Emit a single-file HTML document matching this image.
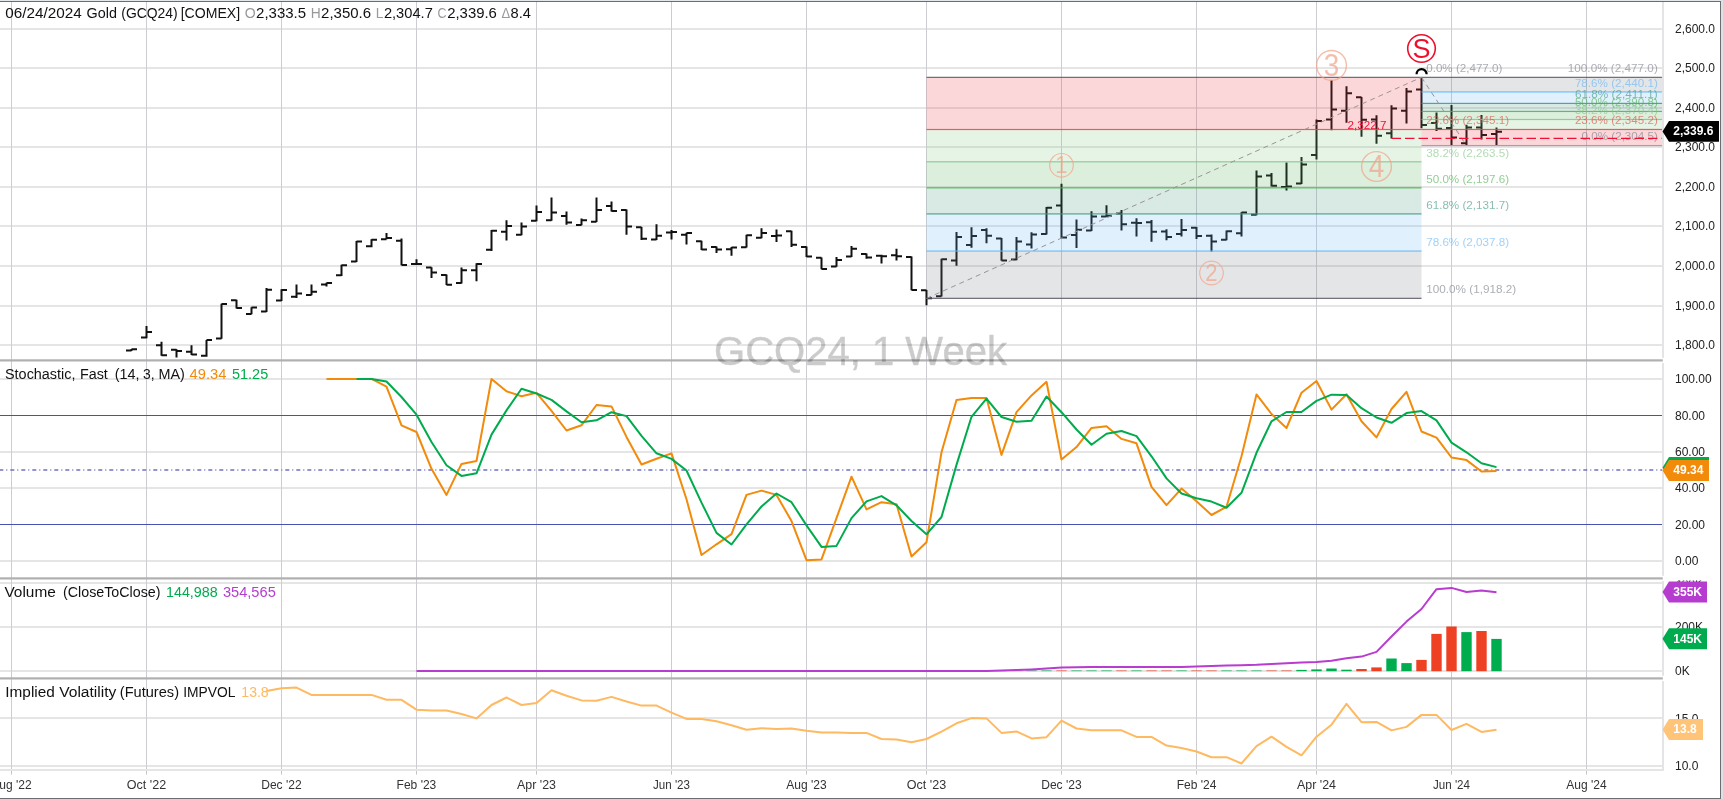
<!DOCTYPE html>
<html><head><meta charset="utf-8"><title>GCQ24 Weekly Chart</title>
<style>html,body{margin:0;padding:0;background:#fff;overflow:hidden}svg{display:block;will-change:transform}</style></head>
<body>
<svg width="1723" height="799" viewBox="0 0 1723 799" font-family="Liberation Sans, sans-serif">
<rect width="1723" height="799" fill="#fff"/>
<defs><clipPath id="cp"><rect x="0" y="2" width="1662" height="355.6"/></clipPath></defs>
<g id="hgrid">
<rect x="0" y="344" width="1662" height="2" fill="#e5e5e5" shape-rendering="crispEdges"/>
<rect x="0" y="305" width="1662" height="2" fill="#e5e5e5" shape-rendering="crispEdges"/>
<rect x="0" y="265" width="1662" height="2" fill="#e5e5e5" shape-rendering="crispEdges"/>
<rect x="0" y="225" width="1662" height="2" fill="#e5e5e5" shape-rendering="crispEdges"/>
<rect x="0" y="186" width="1662" height="2" fill="#e5e5e5" shape-rendering="crispEdges"/>
<rect x="0" y="146" width="1662" height="2" fill="#e5e5e5" shape-rendering="crispEdges"/>
<rect x="0" y="107" width="1662" height="2" fill="#e5e5e5" shape-rendering="crispEdges"/>
<rect x="0" y="67" width="1662" height="2" fill="#e5e5e5" shape-rendering="crispEdges"/>
<rect x="0" y="28" width="1662" height="2" fill="#e5e5e5" shape-rendering="crispEdges"/>
<rect x="0" y="378" width="1662" height="2" fill="#e5e5e5" shape-rendering="crispEdges"/>
<rect x="0" y="451" width="1662" height="2" fill="#e5e5e5" shape-rendering="crispEdges"/>
<rect x="0" y="487" width="1662" height="2" fill="#e5e5e5" shape-rendering="crispEdges"/>
<rect x="0" y="560" width="1662" height="2" fill="#e5e5e5" shape-rendering="crispEdges"/>
<rect x="0" y="582" width="1662" height="2" fill="#e5e5e5" shape-rendering="crispEdges"/>
<rect x="0" y="626" width="1662" height="2" fill="#e5e5e5" shape-rendering="crispEdges"/>
<rect x="0" y="670" width="1662" height="2" fill="#e5e5e5" shape-rendering="crispEdges"/>
<rect x="0" y="717" width="1662" height="2" fill="#e5e5e5" shape-rendering="crispEdges"/>
<rect x="0" y="765" width="1662" height="2" fill="#e5e5e5" shape-rendering="crispEdges"/>
</g>
<g id="vgrid" shape-rendering="crispEdges">
<rect x="11" y="2" width="1" height="772" fill="#cdcdd1"/>
<rect x="146" y="2" width="1" height="772" fill="#cdcdd1"/>
<rect x="281" y="2" width="1" height="772" fill="#cdcdd1"/>
<rect x="416" y="2" width="1" height="772" fill="#cdcdd1"/>
<rect x="536" y="2" width="1" height="772" fill="#cdcdd1"/>
<rect x="671" y="2" width="1" height="772" fill="#cdcdd1"/>
<rect x="806" y="2" width="1" height="772" fill="#cdcdd1"/>
<rect x="926" y="2" width="1" height="772" fill="#cdcdd1"/>
<rect x="1061" y="2" width="1" height="772" fill="#cdcdd1"/>
<rect x="1196" y="2" width="1" height="772" fill="#cdcdd1"/>
<rect x="1316" y="2" width="1" height="772" fill="#cdcdd1"/>
<rect x="1451" y="2" width="1" height="772" fill="#cdcdd1"/>
<rect x="1586" y="2" width="1" height="772" fill="#cdcdd1"/>
</g>
<g id="bars" clip-path="url(#cp)" stroke="#111" stroke-width="2" fill="none">
<path d="M131.5,349.0V351.0M126.0,350.5H131.5M131.5,349.3H137.0M146.5,326.0V338.3M141.0,337.4H146.5M146.5,332.1H152.0M161.5,341.8V355.8M156.0,345.3H161.5M161.5,355.3H167.0M176.5,349.3V359.0M171.0,349.7H176.5M176.5,351.0H182.0M191.5,345.3V355.0M186.0,351.8H191.5M191.5,354.6H197.0M206.5,340.0V356.7M201.0,355.8H206.5M206.5,340.0H212.0M221.5,303.8V338.8M216.0,338.6H221.5M221.5,304.1H227.0M236.5,299.7V308.5M231.0,300.3H236.5M236.5,308.1H242.0M251.5,307.3V314.3M246.0,313.9H251.5M251.5,307.6H257.0M266.5,288.0V312.0M261.0,311.6H266.5M266.5,289.7H272.0M281.5,289.2V301.0M276.0,300.6H281.5M281.5,290.1H287.0M296.5,284.5V298.0M291.0,296.7H296.5M296.5,293.6H302.0M311.5,284.5V295.3M306.0,295.0H311.5M311.5,291.8H317.0M326.5,282.7V286.6M321.0,284.5H326.5M326.5,283.1H332.0M341.5,264.7V276.1M336.0,275.2H341.5M341.5,265.2H347.0M356.5,241.0V262.0M351.0,261.5H356.5M356.5,241.6H362.0M371.5,239.3V247.2M366.0,246.3H371.5M371.5,239.8H377.0M386.5,233.1V239.3M381.0,239.3H386.5M386.5,238.0H392.0M401.5,238.4V265.2M396.0,240.7H401.5M401.5,264.9H407.0M416.5,259.2V264.5M411.0,264.1H416.5M416.5,264.1H422.0M431.5,267.3V278.1M426.0,267.6H431.5M431.5,272.5H437.0M446.5,274.6V285.1M441.0,275.1H446.5M446.5,284.8H452.0M461.5,267.6V283.4M456.0,283.0H461.5M461.5,270.2H467.0M476.5,263.2V281.3M471.0,270.2H476.5M476.5,264.1H482.0M491.5,229.9V251.0M486.0,249.7H491.5M491.5,230.8H497.0M506.5,220.3V240.5M501.0,231.7H506.5M506.5,225.9H512.0M521.5,222.4V235.2M516.0,234.8H521.5M521.5,226.6H527.0M536.5,205.4V221.2M531.0,220.8H536.5M536.5,211.9H542.0M551.5,197.5V220.7M546.0,220.3H551.5M551.5,212.4H557.0M566.5,211.5V224.7M561.0,215.9H566.5M566.5,222.6H572.0M581.5,218.5V225.2M576.0,224.9H581.5M581.5,220.3H587.0M596.5,197.5V222.0M591.0,221.7H596.5M596.5,210.1H602.0M611.5,201.4V211.5M606.0,205.9H611.5M611.5,211.0H617.0M626.5,209.4V234.7M621.0,210.1H626.5M626.5,226.4H632.0M641.5,227.0V239.9M636.0,227.3H641.5M641.5,238.7H647.0M656.5,224.2V239.9M651.0,239.6H656.5M656.5,235.7H662.0M671.5,229.9V239.6M666.0,232.6H671.5M671.5,232.0H677.0M686.5,232.7V244.4M681.0,234.7H686.5M686.5,233.0H692.0M701.5,240.8V250.1M696.0,241.2H701.5M701.5,249.6H707.0M716.5,246.4V253.1M711.0,246.9H716.5M716.5,249.6H722.0M731.5,246.9V255.7M726.0,249.2H731.5M731.5,247.5H737.0M746.5,234.7V247.5M741.0,247.3H746.5M746.5,235.2H752.0M761.5,228.2V238.2M756.0,237.7H761.5M761.5,232.9H767.0M776.5,229.4V242.0M771.0,235.9H776.5M776.5,235.6H782.0M791.5,230.7V246.9M786.0,231.2H791.5M791.5,244.7H797.0M806.5,246.4V256.9M801.0,246.9H806.5M806.5,256.6H812.0M821.5,257.5V269.2M816.0,257.8H821.5M821.5,268.9H827.0M836.5,257.1V266.7M831.0,266.4H836.5M836.5,260.1H842.0M851.5,246.1V256.9M846.0,256.6H851.5M851.5,248.7H857.0M866.5,253.4V258.7M861.0,254.0H866.5M866.5,257.5H872.0M881.5,254.8V263.6M876.0,255.7H881.5M881.5,256.2H887.0M896.5,248.7V260.4M891.0,255.2H896.5M896.5,256.2H902.0M911.5,256.6V290.2M906.0,257.1H911.5M911.5,289.9H917.0M926.5,289.9V305.3M921.0,290.2H926.5M926.5,298.3H932.0M941.5,258.7V296.5M936.0,296.2H941.5M941.5,259.2H947.0M956.5,232.0V265.7M951.0,260.4H956.5M956.5,237.0H962.0M971.5,227.3V247.7M966.0,245.1H971.5M971.5,236.0H977.0M986.5,228.3V243.2M981.0,230.1H986.5M986.5,235.7H992.0M1001.5,238.0V260.8M996.0,238.5H1001.5M1001.5,260.4H1007.0M1016.5,237.1V260.2M1011.0,259.5H1016.5M1016.5,241.5H1022.0M1031.5,232.2V248.5M1026.0,244.5H1031.5M1031.5,234.5H1037.0M1046.5,207.0V234.5M1041.0,234.1H1046.5M1046.5,207.7H1052.0M1061.5,183.7V238.5M1056.0,205.6H1061.5M1061.5,237.6H1067.0M1076.5,219.6V248.0M1071.0,235.0H1076.5M1076.5,229.7H1082.0M1091.5,211.3V231.0M1086.0,230.6H1091.5M1091.5,216.4H1097.0M1106.5,205.2V216.9M1101.0,216.6H1106.5M1106.5,215.7H1112.0M1121.5,209.9V230.6M1116.0,213.4H1121.5M1121.5,224.3H1127.0M1136.5,218.2V236.6M1131.0,222.7H1136.5M1136.5,223.1H1142.0M1151.5,220.1V241.8M1146.0,222.2H1151.5M1151.5,231.8H1157.0M1166.5,229.2V240.3M1161.0,231.5H1166.5M1166.5,237.1H1172.0M1181.5,219.1V236.6M1176.0,233.9H1181.5M1181.5,230.1H1187.0M1196.5,227.1V238.9M1191.0,227.8H1196.5M1196.5,235.9H1202.0M1211.5,234.5V251.5M1206.0,235.7H1211.5M1211.5,241.5H1217.0M1226.5,230.6V240.3M1221.0,239.7H1226.5M1226.5,231.3H1232.0M1241.5,212.2V236.6M1236.0,233.2H1241.5M1241.5,212.6H1247.0M1256.5,170.5V215.2M1251.0,214.8H1256.5M1256.5,176.6H1262.0M1271.5,173.0V186.5M1266.0,175.6H1271.5M1271.5,185.8H1277.0M1286.5,162.5V190.5M1281.0,187.0H1286.5M1286.5,186.5H1292.0M1301.5,156.9V184.1M1296.0,183.5H1301.5M1301.5,164.6H1307.0M1316.5,119.6V159.5M1311.0,155.1H1316.5M1316.5,121.0H1322.0M1331.5,80.0V130.2M1326.0,119.4H1331.5M1331.5,109.6H1337.0M1346.5,86.3V122.7M1341.0,110.8H1346.5M1346.5,93.3H1352.0M1361.5,96.9V136.7M1356.0,97.3H1361.5M1361.5,119.7H1367.0M1376.5,115.2V143.8M1371.0,119.6H1376.5M1376.5,135.7H1382.0M1391.5,105.2V138.5M1386.0,133.3H1391.5M1391.5,108.5H1397.0M1406.5,88.0V123.4M1401.0,110.8H1406.5M1406.5,91.5H1412.0M1421.5,77.8V128.2M1416.0,89.4H1421.5M1421.5,124.9H1427.0M1436.5,112.6V131.0M1431.0,123.1H1436.5M1436.5,128.7H1442.0M1451.5,105.0V144.9M1446.0,127.9H1451.5M1451.5,137.5H1457.0M1466.5,124.7V144.9M1461.0,143.2H1466.5M1466.5,127.6H1472.0M1481.5,115.0V139.4M1476.0,127.6H1481.5M1481.5,135.1H1487.0M1496.5,127.4V144.9M1491.0,134.0H1496.5M1496.5,131.8H1502.0"/>
</g>
<g id="fib">
<rect x="926.5" y="77.35" width="495.0" height="52.17" fill="#f23645" fill-opacity="0.2"/>
<rect x="926.5" y="129.51" width="495.0" height="32.27" fill="#81c784" fill-opacity="0.2"/>
<rect x="926.5" y="161.79" width="495.0" height="26.06" fill="#4caf50" fill-opacity="0.2"/>
<rect x="926.5" y="187.85" width="495.0" height="26.06" fill="#3f957f" fill-opacity="0.2"/>
<rect x="926.5" y="213.91" width="495.0" height="37.14" fill="#64b5f6" fill-opacity="0.2"/>
<rect x="926.5" y="251.05" width="495.0" height="47.30" fill="#787b86" fill-opacity="0.2"/>
<rect x="926.5" y="76.75" width="495.0" height="1.2" fill="#55525e" fill-opacity="0.85"/>
<rect x="926.5" y="128.91" width="495.0" height="1.2" fill="#db4a40" fill-opacity="0.85"/>
<rect x="926.5" y="161.19" width="495.0" height="1.2" fill="#81c784" fill-opacity="0.85"/>
<rect x="926.5" y="187.25" width="495.0" height="1.2" fill="#4caf50" fill-opacity="0.85"/>
<rect x="926.5" y="213.31" width="495.0" height="1.2" fill="#3f957f" fill-opacity="0.85"/>
<rect x="926.5" y="250.45" width="495.0" height="1.2" fill="#64b5f6" fill-opacity="0.85"/>
<rect x="926.5" y="297.75" width="495.0" height="1.2" fill="#55525e" fill-opacity="0.85"/>
<rect x="1421.5" y="77.35" width="241.5" height="14.59" fill="#787b86" fill-opacity="0.2"/>
<rect x="1421.5" y="91.94" width="241.5" height="11.47" fill="#64b5f6" fill-opacity="0.2"/>
<rect x="1421.5" y="103.41" width="241.5" height="8.03" fill="#3f957f" fill-opacity="0.2"/>
<rect x="1421.5" y="111.44" width="241.5" height="8.07" fill="#4caf50" fill-opacity="0.2"/>
<rect x="1421.5" y="119.51" width="241.5" height="9.97" fill="#81c784" fill-opacity="0.2"/>
<rect x="1421.5" y="129.47" width="241.5" height="16.10" fill="#f23645" fill-opacity="0.2"/>
<rect x="1421.5" y="76.75" width="241.5" height="1.2" fill="#55525e" fill-opacity="0.85"/>
<rect x="1421.5" y="91.34" width="241.5" height="1.2" fill="#64b5f6" fill-opacity="0.85"/>
<rect x="1421.5" y="102.81" width="241.5" height="1.2" fill="#3f957f" fill-opacity="0.85"/>
<rect x="1421.5" y="110.84" width="241.5" height="1.2" fill="#4caf50" fill-opacity="0.85"/>
<rect x="1421.5" y="118.91" width="241.5" height="1.2" fill="#81c784" fill-opacity="0.85"/>
<rect x="1421.5" y="128.87" width="241.5" height="1.2" fill="#db4a40" fill-opacity="0.85"/>
<rect x="1421.5" y="144.97" width="241.5" height="1.2" fill="#9a8f9a" fill-opacity="0.85"/>
</g>
<line x1="926.5" y1="298.4" x2="1421.5" y2="77.3" stroke="#9a9494" stroke-width="1" stroke-dasharray="5,4"/>
<line x1="1421.5" y1="77.3" x2="1466.5" y2="145.6" stroke="#9a9494" stroke-width="1" stroke-dasharray="5,4"/>
<g id="fiblabels">
<text x="1426.2" y="72.0" font-size="11.5" fill="#787b86" fill-opacity="0.62" textLength="76.2" lengthAdjust="spacingAndGlyphs">0.0% (2,477.0)</text>
<text x="1426.2" y="124.2" font-size="11.5" fill="#db4a40" fill-opacity="0.62" textLength="82.9" lengthAdjust="spacingAndGlyphs">23.6% (2,345.1)</text>
<text x="1426.2" y="156.5" font-size="11.5" fill="#81c784" fill-opacity="0.62" textLength="82.9" lengthAdjust="spacingAndGlyphs">38.2% (2,263.5)</text>
<text x="1426.2" y="182.5" font-size="11.5" fill="#4caf50" fill-opacity="0.62" textLength="82.9" lengthAdjust="spacingAndGlyphs">50.0% (2,197.6)</text>
<text x="1426.2" y="208.6" font-size="11.5" fill="#3f957f" fill-opacity="0.62" textLength="82.9" lengthAdjust="spacingAndGlyphs">61.8% (2,131.7)</text>
<text x="1426.2" y="245.8" font-size="11.5" fill="#64b5f6" fill-opacity="0.62" textLength="82.9" lengthAdjust="spacingAndGlyphs">78.6% (2,037.8)</text>
<text x="1426.2" y="293.1" font-size="11.5" fill="#787b86" fill-opacity="0.62" textLength="90.0" lengthAdjust="spacingAndGlyphs">100.0% (1,918.2)</text>
<text x="1567.8" y="72.0" font-size="11.5" fill="#787b86" fill-opacity="0.62" textLength="90.0" lengthAdjust="spacingAndGlyphs">100.0% (2,477.0)</text>
<text x="1574.9" y="86.6" font-size="11.5" fill="#64b5f6" fill-opacity="0.62" textLength="82.9" lengthAdjust="spacingAndGlyphs">78.6% (2,440.1)</text>
<text x="1574.9" y="98.1" font-size="11.5" fill="#3f957f" fill-opacity="0.62" textLength="82.9" lengthAdjust="spacingAndGlyphs">61.8% (2,411.1)</text>
<text x="1574.9" y="106.1" font-size="11.5" fill="#4caf50" fill-opacity="0.62" textLength="82.9" lengthAdjust="spacingAndGlyphs">50.0% (2,390.8)</text>
<text x="1574.9" y="114.2" font-size="11.5" fill="#81c784" fill-opacity="0.62" textLength="82.9" lengthAdjust="spacingAndGlyphs">38.2% (2,370.4)</text>
<text x="1574.9" y="124.2" font-size="11.5" fill="#db4a40" fill-opacity="0.62" textLength="82.9" lengthAdjust="spacingAndGlyphs">23.6% (2,345.2)</text>
<text x="1581.6" y="140.3" font-size="11.5" fill="#787b86" fill-opacity="0.62" textLength="76.2" lengthAdjust="spacingAndGlyphs">0.0% (2,304.5)</text>
</g>
<g opacity="0.72"><circle cx="1061.5" cy="165.3" r="11.8" fill="none" stroke="#f2a58b" stroke-width="1.2"/><text x="1055.37" y="173.4" font-size="24.5" fill="#f2a58b" textLength="12.26" lengthAdjust="spacingAndGlyphs">1</text></g>
<g opacity="0.72"><circle cx="1211.5" cy="273" r="11.8" fill="none" stroke="#f2a58b" stroke-width="1.2"/><text x="1205.37" y="281.1" font-size="24.5" fill="#f2a58b" textLength="12.26" lengthAdjust="spacingAndGlyphs">2</text></g>
<g opacity="0.72"><circle cx="1331.5" cy="65.4" r="14.9" fill="none" stroke="#f2a58b" stroke-width="1.4"/><text x="1323.74" y="75.6" font-size="31" fill="#f2a58b" textLength="15.51" lengthAdjust="spacingAndGlyphs">3</text></g>
<g opacity="0.72"><circle cx="1376.5" cy="166.5" r="14.9" fill="none" stroke="#f2a58b" stroke-width="1.4"/><text x="1368.74" y="176.7" font-size="31" fill="#f2a58b" textLength="15.51" lengthAdjust="spacingAndGlyphs">4</text></g>
<line x1="1391.5" y1="138.4" x2="1662" y2="138.4" stroke="#ee1133" stroke-width="1.4" stroke-dasharray="9.5,4"/>
<text x="1347.4" y="128.7" font-size="11.5" fill="#ee1133" textLength="39" lengthAdjust="spacingAndGlyphs">2,322.7</text>
<path d="M1416.6,74.3 A5,5.2 0 0 1 1426.6,74.3" fill="none" stroke="#000" stroke-width="2.2"/>
<g opacity="1"><circle cx="1421.5" cy="48.5" r="13.8" fill="none" stroke="#ee0f2d" stroke-width="1.6"/><text x="1412.50" y="58.2" font-size="27" fill="#ee0f2d" textLength="18.01" lengthAdjust="spacingAndGlyphs">S</text></g>
<rect x="0" y="359.3" width="1662.8" height="2.2" fill="#b0b0b0"/>
<rect x="0" y="577.3" width="1662.8" height="2.2" fill="#b0b0b0"/>
<rect x="0" y="677.3" width="1662.8" height="2.2" fill="#b0b0b0"/>
<rect x="0" y="415" width="1662" height="1" fill="#4a50ae" shape-rendering="crispEdges"/>
<rect x="0" y="524" width="1662" height="1" fill="#4a50ae" shape-rendering="crispEdges"/>
<line x1="-0.7" y1="470" x2="1662" y2="470" stroke="#6d72c4" stroke-width="1.3" stroke-dasharray="4,3,1,3"/>
<polyline points="326.5,378.9 341.5,378.9 356.5,378.9 371.5,378.9 386.5,386.7 401.5,425.3 416.5,432.0 431.5,468.8 446.5,494.9 461.5,463.9 476.5,461.0 491.5,378.9 506.5,391.3 521.5,396.3 536.5,392.8 551.5,410.8 566.5,430.5 581.5,425.3 596.5,405.0 611.5,406.4 626.5,436.9 641.5,464.5 656.5,458.7 671.5,453.4 686.5,499.3 701.5,555.0 716.5,544.3 731.5,534.1 746.5,494.9 761.5,490.6 776.5,494.9 791.5,521.1 806.5,560.2 821.5,559.4 836.5,518.2 851.5,476.7 866.5,509.4 881.5,502.2 896.5,504.2 911.5,556.5 926.5,542.2 941.5,452.3 956.5,400.0 971.5,398.0 986.5,398.0 1001.5,454.9 1016.5,412.2 1031.5,395.4 1046.5,381.8 1061.5,459.5 1076.5,447.1 1091.5,427.9 1106.5,426.2 1121.5,438.9 1136.5,443.3 1151.5,486.8 1166.5,505.1 1181.5,488.6 1196.5,501.3 1211.5,515.0 1226.5,506.8 1241.5,456.3 1256.5,394.4 1271.5,414.0 1286.5,428.0 1301.5,392.7 1316.5,381.0 1331.5,409.6 1346.5,394.2 1361.5,421.3 1376.5,437.4 1391.5,409.0 1406.5,391.8 1421.5,431.5 1436.5,437.7 1451.5,457.5 1466.5,460.1 1481.5,471.5 1496.5,470.9" fill="none" stroke="#f28a0a" stroke-width="2.0" stroke-linejoin="round"/>
<polyline points="356.5,378.9 371.5,378.9 386.5,381.5 401.5,397.0 416.5,414.7 431.5,442.0 446.5,465.2 461.5,475.9 476.5,473.3 491.5,434.6 506.5,410.4 521.5,388.8 536.5,393.5 551.5,399.9 566.5,411.4 581.5,422.2 596.5,420.3 611.5,412.2 626.5,416.1 641.5,435.9 656.5,453.3 671.5,458.9 686.5,470.5 701.5,502.6 716.5,532.9 731.5,544.5 746.5,524.4 761.5,506.5 776.5,493.5 791.5,502.2 806.5,525.4 821.5,546.9 836.5,545.9 851.5,518.1 866.5,501.4 881.5,496.1 896.5,505.3 911.5,521.0 926.5,534.3 941.5,517.0 956.5,464.9 971.5,416.8 986.5,398.7 1001.5,417.0 1016.5,421.7 1031.5,420.8 1046.5,396.5 1061.5,412.2 1076.5,429.5 1091.5,444.8 1106.5,433.7 1121.5,431.0 1136.5,436.1 1151.5,456.3 1166.5,478.4 1181.5,493.5 1196.5,498.3 1211.5,501.6 1226.5,507.7 1241.5,492.8 1256.5,452.8 1271.5,421.3 1286.5,412.0 1301.5,412.0 1316.5,400.9 1331.5,394.7 1346.5,395.0 1361.5,408.2 1376.5,417.5 1391.5,422.8 1406.5,413.1 1421.5,411.1 1436.5,420.4 1451.5,442.6 1466.5,452.3 1481.5,463.3 1496.5,467.1" fill="none" stroke="#00ab4e" stroke-width="2.0" stroke-linejoin="round"/>
<g id="vol">
<rect x="876.3" y="670.2" width="10.4" height="1.0" fill="#00ad4e" fill-opacity="0.12"/>
<rect x="891.3" y="670.2" width="10.4" height="1.0" fill="#ee4023" fill-opacity="0.12"/>
<rect x="906.3" y="670.2" width="10.4" height="1.0" fill="#ee4023" fill-opacity="0.12"/>
<rect x="921.3" y="670.2" width="10.4" height="1.0" fill="#ee4023" fill-opacity="0.12"/>
<rect x="936.3" y="670.2" width="10.4" height="1.0" fill="#00ad4e" fill-opacity="0.12"/>
<rect x="951.3" y="670.2" width="10.4" height="1.0" fill="#00ad4e" fill-opacity="0.12"/>
<rect x="966.3" y="670.2" width="10.4" height="1.0" fill="#00ad4e" fill-opacity="0.12"/>
<rect x="981.3" y="670.2" width="10.4" height="1.0" fill="#00ad4e" fill-opacity="0.12"/>
<rect x="996.3" y="670.2" width="10.4" height="1.0" fill="#ee4023" fill-opacity="0.35"/>
<rect x="1011.3" y="670.2" width="10.4" height="1.0" fill="#00ad4e" fill-opacity="0.35"/>
<rect x="1026.3" y="670.2" width="10.4" height="1.0" fill="#00ad4e" fill-opacity="0.6"/>
<rect x="1041.3" y="670.2" width="10.4" height="1.0" fill="#00ad4e" fill-opacity="0.6"/>
<rect x="1056.3" y="670.2" width="10.4" height="1.0" fill="#ee4023" fill-opacity="0.6"/>
<rect x="1071.3" y="670.2" width="10.4" height="1.0" fill="#00ad4e" fill-opacity="0.6"/>
<rect x="1086.3" y="670.2" width="10.4" height="1.0" fill="#00ad4e" fill-opacity="0.6"/>
<rect x="1101.3" y="670.2" width="10.4" height="1.0" fill="#00ad4e" fill-opacity="0.6"/>
<rect x="1116.3" y="670.2" width="10.4" height="1.0" fill="#ee4023" fill-opacity="0.6"/>
<rect x="1131.3" y="670.2" width="10.4" height="1.0" fill="#00ad4e" fill-opacity="0.6"/>
<rect x="1146.3" y="670.2" width="10.4" height="1.0" fill="#ee4023" fill-opacity="0.6"/>
<rect x="1161.3" y="670.2" width="10.4" height="1.0" fill="#ee4023" fill-opacity="0.6"/>
<rect x="1176.3" y="670.2" width="10.4" height="1.0" fill="#00ad4e" fill-opacity="0.6"/>
<rect x="1191.3" y="670.2" width="10.4" height="1.0" fill="#ee4023" fill-opacity="0.6"/>
<rect x="1206.3" y="670.2" width="10.4" height="1.0" fill="#ee4023" fill-opacity="0.6"/>
<rect x="1221.3" y="670.2" width="10.4" height="1.0" fill="#00ad4e" fill-opacity="0.6"/>
<rect x="1236.3" y="670.2" width="10.4" height="1.0" fill="#00ad4e" fill-opacity="0.6"/>
<rect x="1251.3" y="670.2" width="10.4" height="1.0" fill="#00ad4e" fill-opacity="0.6"/>
<rect x="1266.3" y="670.2" width="10.4" height="1.0" fill="#ee4023" fill-opacity="0.6"/>
<rect x="1281.3" y="670.2" width="10.4" height="1.0" fill="#ee4023" fill-opacity="0.6"/>
<rect x="1296.3" y="669.9" width="10.4" height="1.3" fill="#00ad4e" fill-opacity="1"/>
<rect x="1311.3" y="669.4" width="10.4" height="1.8" fill="#00ad4e" fill-opacity="1"/>
<rect x="1326.3" y="668.5" width="10.4" height="2.7" fill="#00ad4e" fill-opacity="1"/>
<rect x="1341.3" y="669.7" width="10.4" height="1.5" fill="#00ad4e" fill-opacity="1"/>
<rect x="1356.3" y="669.0" width="10.4" height="2.2" fill="#ee4023" fill-opacity="1"/>
<rect x="1371.3" y="667.4" width="10.4" height="3.8" fill="#ee4023" fill-opacity="1"/>
<rect x="1491.3" y="638.9" width="10.4" height="32.3" fill="#00ad4e"/>
<rect x="1476.3" y="631.0" width="10.4" height="40.2" fill="#ee4023"/>
<rect x="1461.3" y="632.1" width="10.4" height="39.1" fill="#00ad4e"/>
<rect x="1446.3" y="626.5" width="10.4" height="44.7" fill="#ee4023"/>
<rect x="1431.3" y="633.9" width="10.4" height="37.3" fill="#ee4023"/>
<rect x="1416.3" y="659.9" width="10.4" height="11.3" fill="#ee4023"/>
<rect x="1401.3" y="663.1" width="10.4" height="8.1" fill="#00ad4e"/>
<rect x="1386.3" y="658.5" width="10.4" height="12.7" fill="#00ad4e"/>
</g>
<polyline points="416.5,670.9 431.5,670.9 446.5,670.9 461.5,670.9 476.5,670.9 491.5,670.9 506.5,670.9 521.5,670.9 536.5,670.9 551.5,670.9 566.5,670.9 581.5,670.9 596.5,670.9 611.5,670.9 626.5,670.9 641.5,670.9 656.5,670.9 671.5,670.9 686.5,670.9 701.5,670.9 716.5,670.9 731.5,670.9 746.5,670.9 761.5,670.9 776.5,670.9 791.5,670.9 806.5,670.9 821.5,670.9 836.5,670.9 851.5,670.9 866.5,670.9 881.5,670.9 896.5,670.9 911.5,670.9 926.5,670.9 941.5,670.9 956.5,670.9 971.5,670.9 986.5,670.9 1001.5,670.4 1016.5,670.0 1031.5,669.4 1046.5,668.6 1061.5,667.6 1076.5,667.2 1091.5,667.0 1106.5,667.0 1121.5,666.9 1136.5,666.9 1151.5,666.9 1166.5,666.9 1181.5,666.9 1196.5,666.5 1211.5,665.9 1226.5,665.5 1241.5,665.3 1256.5,664.8 1271.5,663.9 1286.5,663.2 1301.5,662.6 1316.5,662.0 1331.5,660.7 1346.5,658.2 1361.5,656.6 1376.5,651.9 1391.5,636.5 1406.5,621.6 1421.5,609.0 1436.5,589.2 1451.5,587.9 1466.5,592.0 1481.5,590.4 1496.5,592.3" fill="none" stroke="#b83ccf" stroke-width="2.0" stroke-linejoin="round"/>
<polyline points="266.5,691.1 281.5,688.2 296.5,687.6 311.5,694.9 326.5,694.9 341.5,694.9 356.5,694.9 371.5,694.9 386.5,699.8 401.5,699.8 416.5,709.7 431.5,710.5 446.5,710.5 461.5,714.0 476.5,718.4 491.5,705.0 506.5,697.5 521.5,705.0 536.5,703.0 551.5,690.2 566.5,695.7 581.5,700.4 596.5,700.7 611.5,696.9 626.5,701.5 641.5,705.6 656.5,705.6 671.5,712.6 686.5,718.9 701.5,718.9 716.5,721.3 731.5,725.3 746.5,729.7 761.5,728.2 776.5,729.1 791.5,728.5 806.5,730.8 821.5,732.6 836.5,732.6 851.5,732.9 866.5,732.9 881.5,739.0 896.5,739.6 911.5,742.2 926.5,739.0 941.5,731.7 956.5,723.3 971.5,718.1 986.5,718.4 1001.5,732.9 1016.5,731.4 1031.5,738.4 1046.5,737.2 1061.5,720.7 1076.5,728.5 1091.5,730.3 1106.5,730.3 1121.5,730.3 1136.5,736.9 1151.5,736.9 1166.5,745.6 1181.5,748.0 1196.5,751.5 1211.5,757.2 1226.5,757.2 1241.5,763.5 1256.5,746.1 1271.5,736.7 1286.5,746.8 1301.5,755.3 1316.5,736.7 1331.5,724.7 1346.5,703.9 1361.5,722.2 1376.5,721.9 1391.5,730.4 1406.5,726.9 1421.5,714.9 1436.5,714.9 1451.5,730.0 1466.5,723.8 1481.5,731.9 1496.5,729.7" fill="none" stroke="#ffb961" stroke-width="2.0" stroke-linejoin="round"/>
<rect x="1662" y="2" width="2" height="355.8" fill="#e4e4e7"/>
<rect x="1662" y="363" width="2" height="212.8" fill="#e4e4e7"/>
<rect x="1662" y="581" width="2" height="94.8" fill="#e4e4e7"/>
<rect x="1662" y="681" width="2" height="90.0" fill="#e4e4e7"/>
<rect x="0" y="769" width="1664" height="2" fill="#e5e5e5" shape-rendering="crispEdges"/>
<text x="1675" y="349.2" font-size="12" fill="#222">1,800.0</text>
<text x="1675" y="310.2" font-size="12" fill="#222">1,900.0</text>
<text x="1675" y="270.2" font-size="12" fill="#222">2,000.0</text>
<text x="1675" y="230.2" font-size="12" fill="#222">2,100.0</text>
<text x="1675" y="191.2" font-size="12" fill="#222">2,200.0</text>
<text x="1675" y="151.2" font-size="12" fill="#222">2,300.0</text>
<text x="1675" y="112.2" font-size="12" fill="#222">2,400.0</text>
<text x="1675" y="72.2" font-size="12" fill="#222">2,500.0</text>
<text x="1675" y="33.2" font-size="12" fill="#222">2,600.0</text>
<text x="1675" y="383.3" font-size="12" fill="#222">100.00</text>
<text x="1675" y="419.7" font-size="12" fill="#222">80.00</text>
<text x="1675" y="456.1" font-size="12" fill="#222">60.00</text>
<text x="1675" y="492.4" font-size="12" fill="#222">40.00</text>
<text x="1675" y="528.8" font-size="12" fill="#222">20.00</text>
<text x="1675" y="565.2" font-size="12" fill="#222">0.00</text>
<clipPath id="c4"><rect x="1664" y="580.5" width="56" height="20"/></clipPath><g clip-path="url(#c4)">
<text x="1675" y="587.9" font-size="12" fill="#222">400K</text>
</g>
<text x="1675" y="631.3" font-size="12" fill="#222">200K</text>
<text x="1675" y="674.9" font-size="12" fill="#222">0K</text>
<text x="1675" y="722.5" font-size="12" fill="#222">15.0</text>
<text x="1675" y="770.3" font-size="12" fill="#222">10.0</text>
<path d="M1662.5,131.4 L1669,121.0 H1719 V141.8 H1669 Z" fill="#000"/>
<text x="1673.3" y="135.2" font-size="12" font-weight="bold" fill="#fff">2,339.6</text>
<path d="M1662.5,467.5 L1669,457.0 H1709 V478.0 H1669 Z" fill="#00ab4e"/>
<text x="1673.3" y="471.3" font-size="12" font-weight="bold" fill="#fff">51.25</text>
<path d="M1662.5,470.5 L1669,460.0 H1709 V481.0 H1669 Z" fill="#f28a0a"/>
<text x="1673.3" y="474.3" font-size="12" font-weight="bold" fill="#fff">49.34</text>
<path d="M1662.5,592 L1669,581.5 H1707 V602.5 H1669 Z" fill="#b63ccf"/>
<text x="1673.3" y="595.8" font-size="12" font-weight="bold" fill="#fff">355K</text>
<path d="M1662.5,638.8 L1669,628.3 H1707 V649.3 H1669 Z" fill="#00ab4e"/>
<text x="1673.3" y="642.6" font-size="12" font-weight="bold" fill="#fff">145K</text>
<path d="M1662.5,729.6 L1669,719.1 H1703 V740.1 H1669 Z" fill="#ffc477"/>
<text x="1673.3" y="733.4" font-size="12" font-weight="bold" fill="#fff">13.8</text>
<rect x="11" y="771" width="1" height="3.6" fill="#c4c4c8"/>
<text x="-8.7" y="789" font-size="12" fill="#333" textLength="40.4" lengthAdjust="spacingAndGlyphs">Aug '22</text>
<rect x="146" y="771" width="1" height="3.6" fill="#c4c4c8"/>
<text x="126.8" y="789" font-size="12" fill="#333" textLength="39.4" lengthAdjust="spacingAndGlyphs">Oct '22</text>
<rect x="281" y="771" width="1" height="3.6" fill="#c4c4c8"/>
<text x="261.2" y="789" font-size="12" fill="#333" textLength="40.5" lengthAdjust="spacingAndGlyphs">Dec '22</text>
<rect x="416" y="771" width="1" height="3.6" fill="#c4c4c8"/>
<text x="396.6" y="789" font-size="12" fill="#333" textLength="39.7" lengthAdjust="spacingAndGlyphs">Feb '23</text>
<rect x="536" y="771" width="1" height="3.6" fill="#c4c4c8"/>
<text x="517.0" y="789" font-size="12" fill="#333" textLength="39.0" lengthAdjust="spacingAndGlyphs">Apr '23</text>
<rect x="671" y="771" width="1" height="3.6" fill="#c4c4c8"/>
<text x="653.0" y="789" font-size="12" fill="#333" textLength="37.0" lengthAdjust="spacingAndGlyphs">Jun '23</text>
<rect x="806" y="771" width="1" height="3.6" fill="#c4c4c8"/>
<text x="786.3" y="789" font-size="12" fill="#333" textLength="40.4" lengthAdjust="spacingAndGlyphs">Aug '23</text>
<rect x="926" y="771" width="1" height="3.6" fill="#c4c4c8"/>
<text x="906.8" y="789" font-size="12" fill="#333" textLength="39.4" lengthAdjust="spacingAndGlyphs">Oct '23</text>
<rect x="1061" y="771" width="1" height="3.6" fill="#c4c4c8"/>
<text x="1041.2" y="789" font-size="12" fill="#333" textLength="40.5" lengthAdjust="spacingAndGlyphs">Dec '23</text>
<rect x="1196" y="771" width="1" height="3.6" fill="#c4c4c8"/>
<text x="1176.7" y="789" font-size="12" fill="#333" textLength="39.7" lengthAdjust="spacingAndGlyphs">Feb '24</text>
<rect x="1316" y="771" width="1" height="3.6" fill="#c4c4c8"/>
<text x="1297.0" y="789" font-size="12" fill="#333" textLength="39.0" lengthAdjust="spacingAndGlyphs">Apr '24</text>
<rect x="1451" y="771" width="1" height="3.6" fill="#c4c4c8"/>
<text x="1433.0" y="789" font-size="12" fill="#333" textLength="37.0" lengthAdjust="spacingAndGlyphs">Jun '24</text>
<rect x="1586" y="771" width="1" height="3.6" fill="#c4c4c8"/>
<text x="1566.3" y="789" font-size="12" fill="#333" textLength="40.4" lengthAdjust="spacingAndGlyphs">Aug '24</text>
<text x="5.2" y="17.5" font-size="14" fill="#111" textLength="76.6" lengthAdjust="spacingAndGlyphs">06/24/2024</text>
<text x="86.5" y="17.5" font-size="14" fill="#111" textLength="30.4" lengthAdjust="spacingAndGlyphs">Gold</text>
<text x="121.3" y="17.5" font-size="14" fill="#111" textLength="56.4" lengthAdjust="spacingAndGlyphs">(GCQ24)</text>
<text x="180.7" y="17.5" font-size="14" fill="#111" textLength="59.4" lengthAdjust="spacingAndGlyphs">[COMEX]</text>
<text x="244.8" y="17.5" font-size="14" fill="#999" textLength="10.9" lengthAdjust="spacingAndGlyphs">O</text>
<text x="256.1" y="17.5" font-size="14" fill="#111" textLength="50.0" lengthAdjust="spacingAndGlyphs">2,333.5</text>
<text x="310.7" y="17.5" font-size="14" fill="#999" textLength="10.0" lengthAdjust="spacingAndGlyphs">H</text>
<text x="321.1" y="17.5" font-size="14" fill="#111" textLength="50.0" lengthAdjust="spacingAndGlyphs">2,350.6</text>
<text x="375.7" y="17.5" font-size="14" fill="#999" textLength="7.7" lengthAdjust="spacingAndGlyphs">L</text>
<text x="383.9" y="17.5" font-size="14" fill="#111" textLength="48.9" lengthAdjust="spacingAndGlyphs">2,304.7</text>
<text x="437.5" y="17.5" font-size="14" fill="#999" textLength="9.0" lengthAdjust="spacingAndGlyphs">C</text>
<text x="447.2" y="17.5" font-size="14" fill="#111" textLength="49.7" lengthAdjust="spacingAndGlyphs">2,339.6</text>
<text x="501.5" y="17.5" font-size="14" fill="#999" textLength="8.7" lengthAdjust="spacingAndGlyphs">Δ</text>
<text x="510.6" y="17.5" font-size="14" fill="#111" textLength="20.4" lengthAdjust="spacingAndGlyphs">8.4</text>
<text x="5.0" y="378.7" font-size="14" fill="#111" textLength="70.5" lengthAdjust="spacingAndGlyphs">Stochastic,</text>
<text x="79.9" y="378.7" font-size="14" fill="#111" textLength="27.9" lengthAdjust="spacingAndGlyphs">Fast</text>
<text x="114.7" y="378.7" font-size="14" fill="#111" textLength="24.8" lengthAdjust="spacingAndGlyphs">(14,</text>
<text x="143.0" y="378.7" font-size="14" fill="#111" textLength="11.6" lengthAdjust="spacingAndGlyphs">3,</text>
<text x="158.5" y="378.7" font-size="14" fill="#111" textLength="26.4" lengthAdjust="spacingAndGlyphs">MA)</text>
<text x="189.6" y="378.7" font-size="14" fill="#f28a0a" textLength="36.9" lengthAdjust="spacingAndGlyphs">49.34</text>
<text x="232.0" y="378.7" font-size="14" fill="#00ab4e" textLength="36.2" lengthAdjust="spacingAndGlyphs">51.25</text>
<text x="4.4" y="596.7" font-size="14" fill="#111" textLength="51.4" lengthAdjust="spacingAndGlyphs">Volume</text>
<text x="63.0" y="596.7" font-size="14" fill="#111" textLength="97.5" lengthAdjust="spacingAndGlyphs">(CloseToClose)</text>
<text x="166.0" y="596.7" font-size="14" fill="#00ab4e" textLength="51.7" lengthAdjust="spacingAndGlyphs">144,988</text>
<text x="222.9" y="596.7" font-size="14" fill="#b63ccf" textLength="52.9" lengthAdjust="spacingAndGlyphs">354,565</text>
<text x="5.3" y="696.7" font-size="14" fill="#111" textLength="49.5" lengthAdjust="spacingAndGlyphs">Implied</text>
<text x="59.2" y="696.7" font-size="14" fill="#111" textLength="57.2" lengthAdjust="spacingAndGlyphs">Volatility</text>
<text x="119.8" y="696.7" font-size="14" fill="#111" textLength="59.2" lengthAdjust="spacingAndGlyphs">(Futures)</text>
<text x="183.2" y="696.7" font-size="14" fill="#111" textLength="52.2" lengthAdjust="spacingAndGlyphs">IMPVOL</text>
<text x="241.3" y="696.7" font-size="14" fill="#ffb961" textLength="27.4" lengthAdjust="spacingAndGlyphs">13.8</text>
<g opacity="0.2"><text x="714" y="365.4" font-size="41.5" fill="#000" stroke="#000" stroke-width="0.5" textLength="293" lengthAdjust="spacingAndGlyphs">GCQ24, 1 Week</text></g>
<rect x="0" y="0" width="1723" height="1" fill="#e4e8ec"/>
<rect x="1721" y="0" width="2" height="799" fill="#dde1e5"/>
<rect x="0" y="1" width="1721" height="1" fill="#6b6d70"/>
<rect x="1720" y="1" width="1" height="798" fill="#6b6d70"/>
<rect x="0" y="798" width="1721" height="1" fill="#6b6d70"/>
</svg>
</body></html>
